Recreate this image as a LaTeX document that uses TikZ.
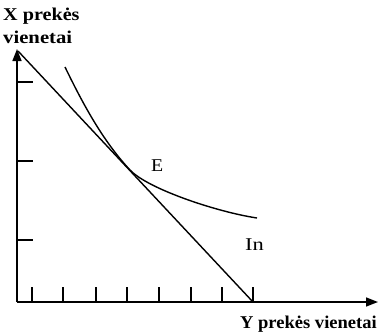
\documentclass[tikz,border=0pt]{standalone}
\usepackage{fontspec}
\usepackage{graphicx}
\setmainfont{Liberation Serif}
\usetikzlibrary{arrows.meta}
\begin{document}
\begin{tikzpicture}[x=1pt,y=-1pt,
  axis/.style={line width=1.6pt,-{Triangle[length=12pt,width=9pt]}},
  tick/.style={line width=1.3pt},
  curve/.style={line width=1.4pt},
  lbl/.style={font=\fontsize{18}{20}\selectfont\bfseries,inner sep=0pt},
  pt/.style={font=\fontsize{18}{20}\selectfont,inner sep=0pt}]
\useasboundingbox (0,0) rectangle (378,332);
\coordinate (O) at (17,302);
\coordinate (ytop) at (17,49);
\coordinate (xend) at (378,302);
\draw[axis] (O) -- (ytop);
\draw[axis] (O) -- (xend);
\foreach \y in {82,161,240} \draw[tick] (17,\y) -- (33,\y);
\foreach \x in {32,63,96,127,159,191,222,253} \draw[tick] (\x,287) -- (\x,302);
\coordinate (b1) at (18,51);
\coordinate (b2) at (253,302);
\draw[curve] (b1) -- (b2);
\coordinate (c1) at (65,67);
\coordinate (cE) at (130,170);
\coordinate (c2) at (257,218);
\draw[curve] (c1) .. controls (82,102) and (102,140) .. (cE) .. controls (148,189) and (217,212) .. (c2);
\node[lbl,anchor=base west] (xl1) at (3,20) {\scalebox{1.12}[1]{X prekės}};
\node[lbl,anchor=base west] (xl2) at (3,43) {\scalebox{1.15}[1]{vienetai}};
\node[lbl,anchor=base east] (yl) at (377,328) {\scalebox{1.03}[1]{Y prekės vienetai}};
\node[pt,anchor=base west] (E) at (151,171) {\scalebox{1.1}[1]{E}};
\node[pt,anchor=base west] (In) at (245,250) {\scalebox{1.25}[1]{In}};
\end{tikzpicture}
\end{document}
